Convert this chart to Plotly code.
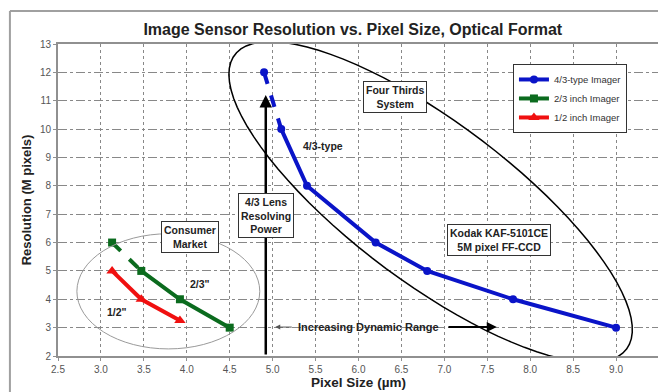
import numpy as np
import plotly.graph_objects as go

# series values
px43 = [5.1, 5.4, 6.2, 6.8, 7.8, 9.0]
mp43 = [10, 8, 6, 5, 4, 3]
px43_lead = [4.9, 5.1]
mp43_lead = [12, 10]

px23 = [3.47, 3.92, 4.5]
mp23 = [5, 4, 3]
px23_lead = [3.13, 3.47]
mp23_lead = [6, 5]

px12 = [3.13, 3.47, 3.92]
mp12 = [5, 4, 3.25]

XTICKS = [2.5 + 0.5 * i for i in range(15)]
YTICKS = list(range(2, 14))

BLUE, GREEN, RED = '#0a14c8', '#0b6b1e', '#f01010'
FONT = 'Liberation Sans, Arial, sans-serif'

# plot area size in px, used to draw the tilted ellipse round the 4/3 series
PXX, PXY = 601 / 7.0, 312 / 11.0

def tilted_ellipse(cx, cy, a, b, deg):
    t = np.linspace(0, 2 * np.pi, 90)
    th = np.radians(deg)
    ux, uy = np.cos(th), -np.sin(th)
    nx, ny = np.sin(th), np.cos(th)
    ox = a * np.cos(t) * ux + b * np.sin(t) * nx
    oy = a * np.cos(t) * uy + b * np.sin(t) * ny
    xs = cx + ox / PXX
    ys = cy + oy / PXY
    pts = ' L '.join(f'{x:.4f},{y:.4f}' for x, y in zip(xs, ys))
    return 'M ' + pts + ' Z'

fig = go.Figure()

fig.add_trace(go.Scatter(x=px43_lead, y=mp43_lead, mode='lines', showlegend=False,
                         line=dict(color=BLUE, width=4, dash='dash')))
fig.add_trace(go.Scatter(x=px43_lead[:1], y=mp43_lead[:1], mode='markers', showlegend=False,
                         marker=dict(color=BLUE, size=8, symbol='circle')))
fig.add_trace(go.Scatter(x=px43, y=mp43, mode='lines+markers', name='4/3-type Imager',
                         line=dict(color=BLUE, width=4),
                         marker=dict(color=BLUE, size=8, symbol='circle')))

fig.add_trace(go.Scatter(x=px23_lead, y=mp23_lead, mode='lines', showlegend=False,
                         line=dict(color=GREEN, width=4, dash='dash')))
fig.add_trace(go.Scatter(x=px23_lead[:1], y=mp23_lead[:1], mode='markers', showlegend=False,
                         marker=dict(color=GREEN, size=8, symbol='square')))
fig.add_trace(go.Scatter(x=px23, y=mp23, mode='lines+markers', name='2/3 inch Imager',
                         line=dict(color=GREEN, width=4),
                         marker=dict(color=GREEN, size=8, symbol='square')))

fig.add_trace(go.Scatter(x=px12, y=mp12, mode='lines+markers', name='1/2 inch Imager',
                         line=dict(color=RED, width=4),
                         marker=dict(color=RED, size=10, symbol='triangle-up')))

shapes = [
    dict(type='path', xref='x', yref='y', path=tilted_ellipse(6.84, 7.43, 245, 80, 36.9),
         line=dict(color='black', width=1.5)),
    dict(type='circle', xref='x', yref='y', x0=2.72, x1=4.85, y0=2.25, y1=6.31,
         line=dict(color='#9a9a9a', width=1)),
    # outer frame of the picture
    dict(type='line', xref='paper', yref='paper', x0=-0.08, x1=1.05, y0=1.106, y1=1.106,
         line=dict(color='#a0a0a0', width=2)),
    dict(type='line', xref='paper', yref='paper', x0=-0.08, x1=-0.08, y0=-0.2, y1=1.106,
         line=dict(color='#a0a0a0', width=2)),
]

box = dict(showarrow=False, bgcolor='white', bordercolor='#333', borderwidth=1, borderpad=2,
           font=dict(family=FONT, size=10.5, color='#222'))
txt = dict(showarrow=False, font=dict(family=FONT, size=10.5, color='#222'))
ann = [
    dict(x=4.92, y=11.2, ax=4.92, ay=2.0, xref='x', yref='y', axref='x', ayref='y',
         text='', showarrow=True, arrowhead=2, arrowsize=1, arrowwidth=2.5, arrowcolor='black'),
    dict(x=5.03, y=3.02, ax=5.24, ay=3.02, xref='x', yref='y', axref='x', ayref='y',
         text='', showarrow=True, arrowhead=2, arrowsize=1, arrowwidth=1, arrowcolor='#555'),
    dict(x=7.61, y=3.02, ax=7.03, ay=3.02, xref='x', yref='y', axref='x', ayref='y',
         text='', showarrow=True, arrowhead=2, arrowsize=1, arrowwidth=2, arrowcolor='black'),
    dict(x=6.12, y=3.02, text='<b>Increasing Dynamic Range</b>', **dict(txt, font=dict(family=FONT, size=11, color='#222'))),
    dict(x=6.42, y=11.13, text='<b>Four Thirds<br>System</b>', **box),
    dict(x=4.92, y=6.94, text='<b>4/3 Lens<br>Resolving<br>Power</b>', **box),
    dict(x=4.04, y=6.2, text='<b>Consumer<br>Market</b>', **box),
    dict(x=7.64, y=6.09, text='<b>Kodak KAF-5101CE<br>5M pixel FF-CCD</b>', **box),
    dict(x=5.59, y=9.4, text='<b>4/3-type</b>', **txt),
    dict(x=4.15, y=4.54, text='<b>2/3"</b>', **txt),
    dict(x=3.19, y=3.55, text='<b>1/2"</b>', **txt),
]

# the page puts the figure 8px in from the top-left corner
fig.update_layout(
    width=658, height=384,
    margin=dict(l=50, r=7, t=36, b=36, autoexpand=False),
    paper_bgcolor='white', plot_bgcolor='white',
    font=dict(family=FONT, size=10, color='#555'),
    title=dict(text='<b>Image Sensor Resolution vs. Pixel Size, Optical Format</b>',
               x=0.524, xanchor='center', y=0.945, yanchor='middle',
               font=dict(family=FONT, size=16, color='#222')),
    legend=dict(x=0.757, y=0.936, xanchor='left', yanchor='top', bgcolor='white',
                bordercolor='#333', borderwidth=1, font=dict(size=9.5, color='#333'),
                tracegroupgap=0, itemwidth=30),
    shapes=shapes, annotations=ann,
)
fig.update_xaxes(range=[2.5, 9.5], tickvals=XTICKS, tickformat='.1f', automargin=False,
                 showgrid=True, gridcolor='#888', griddash='dot', gridwidth=1,
                 showline=True, linecolor='#909090', linewidth=2, mirror=True,
                 ticks='outside', ticklen=3, tickcolor='#909090', zeroline=False,
                 title=dict(text='<b>Pixel Size (µm)</b>', standoff=3,
                            font=dict(size=13.5, color='#222')))
fig.update_yaxes(range=[2, 13], tickvals=YTICKS, automargin=False,
                 showgrid=True, gridcolor='#888', griddash='dashdot', gridwidth=1,
                 showline=True, linecolor='#909090', linewidth=2, mirror=True,
                 ticks='outside', ticklen=3, tickcolor='#909090', zeroline=False,
                 title=dict(text='<b>Resolution (M pixels)</b>', standoff=5,
                            font=dict(size=13, color='#222')))

fig.write_html('out.html')
